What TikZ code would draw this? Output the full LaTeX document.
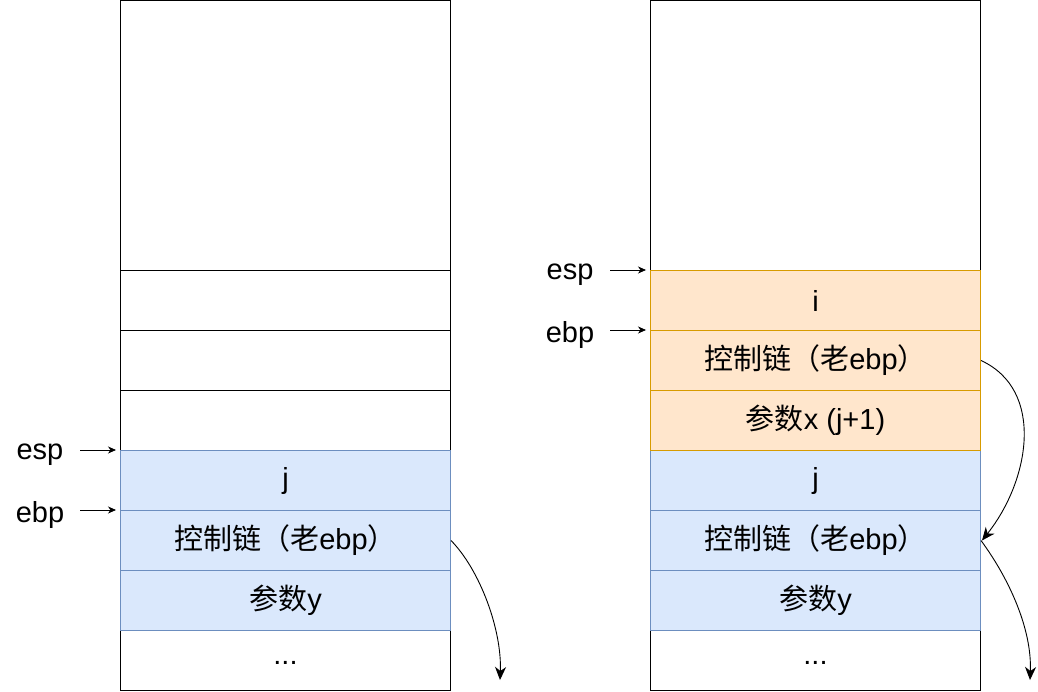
\documentclass[tikz,border=0pt]{standalone}
\usepackage{fontspec}
\setmainfont{Liberation Sans}
\newfontfamily\cjk{Noto Sans CJK SC}
\usetikzlibrary{arrows.meta}
\definecolor{bfill}{HTML}{DAE8FC}
\definecolor{bdraw}{HTML}{6C8EBF}
\definecolor{ofill}{HTML}{FFE6CC}
\definecolor{odraw}{HTML}{D79B00}
\tikzset{
  cell/.style={draw=black, line width=1pt, minimum width=330pt, minimum height=60pt, inner sep=0pt, anchor=north west, font=\fontsize{29}{34}\selectfont},
  bluecell/.style={cell, fill=bfill, draw=bdraw},
  orangecell/.style={cell, fill=ofill, draw=odraw},
  ptr/.style={-{Stealth[length=8pt,width=7pt,inset=2.5pt]}, line width=0.8pt},
  chain/.style={-{Stealth[length=13pt,width=11pt,inset=4pt]}, line width=0.9pt},
  lab/.style={font=\fontsize{29}{34}\selectfont, inner sep=0pt}
}
\begin{document}
\begin{tikzpicture}[x=1pt,y=-1pt]
\useasboundingbox (0,0) rectangle (1038,692);
% left column
\node[cell, minimum height=270pt] (L0) at (120,0.5) {};
\node[cell] (L1) at (120,270) {};
\node[cell] (L2) at (120,330) {};
\node[cell] (L3) at (120,390) {};
\node[cell] (L7) at (120,630) {\raisebox{-7pt}{...}};
\node[bluecell] (L4) at (120,450) {j};
\node[bluecell] (L5) at (120,510) {{\cjk 控制链（老}ebp{\cjk ）}};
\node[bluecell] (L6) at (120,570) {{\cjk 参数}y};
% right column
\node[cell, minimum height=270pt] (R0) at (650,0.5) {};
\node[cell] (R7) at (650,630) {\raisebox{-7pt}{...}};
\node[bluecell] (R4) at (650,450) {j};
\node[bluecell] (R5) at (650,510) {{\cjk 控制链（老}ebp{\cjk ）}};
\node[bluecell] (R6) at (650,570) {{\cjk 参数}y};
\node[orangecell] (R1) at (650,270) {i};
\node[orangecell] (R2) at (650,330) {{\cjk 控制链（老}ebp{\cjk ）}};
\node[orangecell] (R3) at (650,390) {{\cjk 参数}x (j+1)};
% pointer labels
\node[lab] (lesp) at (40,455) {esp};
\node[lab] (lebp) at (40,515) {ebp};
\node[lab] (resp) at (570,275) {esp};
\node[lab] (rebp) at (570,335) {ebp};
\coordinate (lespa) at (80,450);
\coordinate (lebpa) at (80,510);
\coordinate (respa) at (610,270);
\coordinate (rebpa) at (610,330);
\draw[ptr] (lespa) -- ([xshift=-4pt]L4.north west);
\draw[ptr] (lebpa) -- ([xshift=-4pt]L5.north west);
\draw[ptr] (respa) -- ([xshift=-4pt]R1.north west);
\draw[ptr] (rebpa) -- ([xshift=-4pt]R2.north west);
% chain arrows
\coordinate (lend) at (500,680);
\coordinate (rend) at (1030,680);
\draw[chain] (L5.east) .. controls (480,570) and (502,630) .. (lend);
\draw[chain] (R2.east) .. controls (1045,390) and (1030,480) .. ([xshift=1pt]R5.east);
\draw[chain] (R5.east) .. controls (1010,580) and (1032,630) .. (rend);
\end{tikzpicture}
\end{document}
